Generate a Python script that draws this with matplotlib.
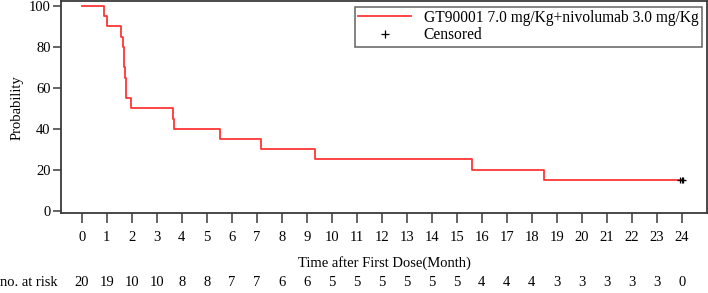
import matplotlib
matplotlib.use('Agg')
import matplotlib.pyplot as plt
from matplotlib.lines import Line2D
import matplotlib.transforms as mtransforms

# KM curve (months, survival %)
times = [0, 0.87, 0.99, 1.57, 1.66, 1.70, 1.73, 1.76, 1.96, 3.64, 3.68, 5.51, 7.15, 9.32, 15.63, 18.48, 24.0]
surv = [100, 95, 90, 85, 80, 70, 65, 55, 50, 45, 40, 35, 30, 25, 20, 15, 15]
cens_t = [23.95, 24.0, 24.04]
cens_s = [15, 15, 15]
months = list(range(0, 25))
at_risk = [20, 19, 10, 10, 8, 8, 7, 7, 6, 6, 5, 5, 5, 5, 5, 5, 4, 4, 4, 3, 3, 3, 3, 3, 0]
yticks = [0, 20, 40, 60, 80, 100]

plt.rcParams['font.family'] = ['Liberation Serif', 'DejaVu Serif']
plt.rcParams['font.size'] = 10.5
dark = '#3a3a3a'

fig = plt.figure(figsize=(7.08, 2.93), dpi=100)
ax = fig.add_axes([0.0862, 0.272, 0.912, 0.7246])

ax.step(times, surv, where='post', color='#ff3636', lw=1.3)
ax.plot(cens_t, cens_s, '+', color='black', ms=4.5, mew=0.9)

ax.set_xlim(-0.83, 25.0)
ax.set_ylim(-1.3, 102.4)
ax.set_xticks(months)
ax.set_yticks(yticks)
for s in ax.spines.values():
    s.set_color(dark)
    s.set_linewidth(1.3)
ax.tick_params(axis='x', length=7, width=1.1, color=dark, pad=6)
ax.tick_params(axis='y', length=6, width=1.1, color=dark, pad=1.5)
ax.set_ylabel('Probability', labelpad=4)

fig.text(0.5436, 1 - 263 / 293, 'Time after First Dose(Month)', ha='center', va='center')

trans = mtransforms.blended_transform_factory(ax.transData, fig.transFigure)
for m, n in zip(months, at_risk):
    ax.text(m, 1 - 283 / 293, str(n), transform=trans, ha='center', va='center', clip_on=False)
fig.text(0.0, 1 - 283 / 293, 'no. at risk', ha='left', va='center')

handles = [Line2D([], [], color='#ff3636', lw=1.3),
           Line2D([], [], color='black', marker='+', ls='none', ms=6, mew=0.9)]
leg = ax.legend(handles, ['GT90001 7.0 mg/Kg+nivolumab 3.0 mg/Kg', 'Censored'],
                loc='upper right', bbox_to_anchor=(0.992, 0.973), borderaxespad=0,
                fancybox=False, frameon=True, handlelength=3.4, handletextpad=0.8,
                borderpad=0.2, labelspacing=0.1, fontsize=11.2)
leg.get_frame().set_edgecolor(dark)
leg.get_frame().set_linewidth(1.1)

fig.savefig('out.png', dpi=100)
